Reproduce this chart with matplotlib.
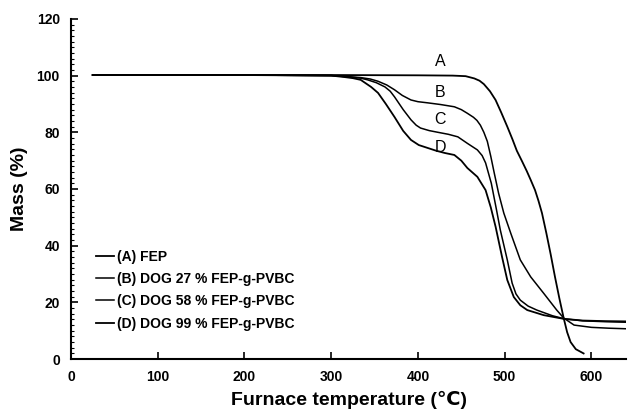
import matplotlib
matplotlib.use("Agg")
import matplotlib.pyplot as plt
from matplotlib.ticker import MultipleLocator

plt.rcParams['font.family'] = ['Liberation Sans', 'DejaVu Sans']

# TGA curves (temperature in C, mass in %)
temp_a = [25, 100, 200, 300, 400, 440, 455, 465, 471, 476, 483, 489.5, 496, 503, 509, 514,
          520, 525.5, 530, 535, 539, 543, 548, 553, 558, 563, 568, 572, 576, 582, 591]
mass_a = [100.2, 100.2, 100.2, 100.2, 100.1, 100.0, 99.8, 99.0, 98.2, 97.0, 94.5, 91.4,
          87.0, 82.0, 77.5, 73.5, 69.8, 66.3, 63.2, 59.6, 55.8, 51.5, 44.5, 37.0, 29.0,
          21.5, 14.5, 9.5, 6.0, 3.5, 2.0]

temp_b = [25, 100, 200, 300, 320, 334, 345, 354, 364, 373, 382, 392, 400, 411, 426, 442,
          450, 457, 464, 468, 472, 476, 480, 484, 488, 493, 499, 507, 518, 530, 545, 560,
          568, 580, 600, 620, 640]
mass_b = [100.2, 100.2, 100.2, 100.0, 99.6, 99.3, 98.8, 98.0, 96.7, 95.0, 93.0, 91.4,
          90.8, 90.4, 89.8, 89.0, 88.0, 86.7, 85.3, 84.2, 82.5, 80.0, 76.8, 71.5, 65.6,
          58.5, 51.5, 44.4, 35.0, 29.0, 23.2, 17.3, 14.5, 12.0, 11.2, 10.9, 10.7]

temp_c = [25, 100, 200, 300, 320, 334, 342, 352, 362, 368, 373, 383, 392, 398, 403, 413,
          423, 435, 446, 457, 468.5, 474, 478, 484.6, 490.6, 495, 503, 508.6, 513, 518,
          527, 537, 555, 569, 590, 615, 640]
mass_c = [100.2, 100.2, 100.2, 100.0, 99.6, 99.1, 98.5, 97.5, 96.0, 94.5, 92.5, 88.0,
          84.4, 82.5, 81.5, 80.6, 80.0, 79.3, 78.4, 76.1, 73.8, 71.8, 69.2, 62.0, 52.6,
          45.5, 35.0, 26.8, 23.0, 20.8, 18.7, 17.3, 15.3, 14.2, 13.5, 13.2, 13.0]

temp_d = [25, 100, 200, 300, 315, 325, 334, 346, 354, 363, 373, 383, 392, 401, 411, 421,
          431, 442, 450, 457, 468.5, 478, 484, 489.6, 497, 503, 510.5, 518, 526, 545,
          568, 590, 615, 640]
mass_d = [100.2, 100.2, 100.2, 100.0, 99.5, 99.1, 98.5, 96.0, 93.9, 90.0, 85.4, 80.5,
          77.3, 75.5, 74.5, 73.5, 72.7, 72.0, 70.0, 67.4, 64.3, 59.6, 53.5, 46.6, 36.0,
          27.9, 21.9, 19.0, 17.3, 15.5, 14.2, 13.6, 13.4, 13.3]

series_labels = ['(A) FEP', '(B) DOG 27 % FEP-g-PVBC',
                 '(C) DOG 58 % FEP-g-PVBC', '(D) DOG 99 % FEP-g-PVBC']
curve_tags = ['A', 'B', 'C', 'D']
tag_y = [104.8, 94.2, 84.4, 74.8]
tag_x = 426

fig = plt.figure(figsize=(6.28, 4.2), dpi=100)
ax = fig.add_axes([0.113, 0.145, 0.884, 0.81])

curves = [(temp_a, mass_a), (temp_b, mass_b), (temp_c, mass_c), (temp_d, mass_d)]
widths = [1.3, 1.1, 1.1, 1.3]
for (t, m), lab, lw in zip(curves, series_labels, widths):
    ax.plot(t, m, color='black', lw=lw, label=lab, solid_joinstyle='round')

for tag, y in zip(curve_tags, tag_y):
    ax.text(tag_x, y, tag, fontsize=11.5, ha='center', va='center', color='black')

ax.set_xlim(0, 640)
ax.set_ylim(0, 120)
ax.xaxis.set_major_locator(MultipleLocator(100))
ax.yaxis.set_major_locator(MultipleLocator(20))
ax.yaxis.set_minor_locator(MultipleLocator(2))
ax.tick_params(axis='both', which='major', direction='in', length=5, width=1.2,
               labelsize=10, pad=8)
ax.tick_params(axis='y', which='minor', direction='in', length=2, width=0.8)
for lbl in ax.get_xticklabels() + ax.get_yticklabels():
    lbl.set_fontweight('bold')

for side in ['top', 'right']:
    ax.spines[side].set_visible(False)
for side in ['left', 'bottom']:
    ax.spines[side].set_linewidth(1.5)

ax.set_xlabel('Furnace temperature (℃)', fontsize=14, fontweight='semibold', labelpad=5)
ax.set_ylabel('Mass (%)', fontsize=14, fontweight='bold', labelpad=6)

leg = ax.legend(loc='lower left', bbox_to_anchor=(0.022, 0.047), frameon=False,
                handlelength=1.3, handletextpad=0.25, labelspacing=0.6,
                prop={'size': 10, 'weight': 'bold'})

fig.savefig('out.png', dpi=100)
